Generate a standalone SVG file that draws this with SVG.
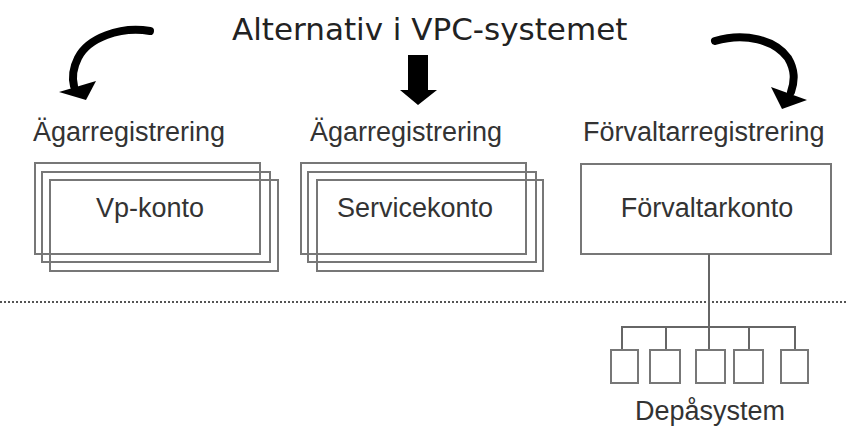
<svg xmlns="http://www.w3.org/2000/svg" width="848" height="427" viewBox="0 0 848 427">
<style>
.title{font-family:"DejaVu Sans",Verdana,sans-serif;font-size:31px;fill:#222}
.lbl{font-family:"Liberation Sans",Arial,sans-serif;font-size:27px;fill:#333}
.box{fill:none;stroke:#777;stroke-width:2}
.ln{stroke:#666;stroke-width:2;fill:none}
.arr{fill:none;stroke:#000;stroke-width:8;stroke-linecap:round}
</style>
<rect width="848" height="427" fill="#fff"/>
<text class="title" x="232" y="40">Alternativ i VPC-systemet</text>
<g id="arrows">
<path class="arr" d="M150 31 C120 26 88 38 78 58 C72 70 72 78 74 86"/>
<polygon points="59,92 96,81 86,100" fill="#000"/>
<polygon points="408,55 428,55 428,90 437,90 418,105 400,90 408,90" fill="#000"/>
<path class="arr" d="M715 41 C745 32 775 40 788 58 C795 70 795 80 791 92"/>
<polygon points="771,87 807,100 782,109" fill="#000"/>
</g>
<g id="vp">
<text class="lbl" x="33" y="141">Ägarregistrering</text>
<rect class="box" x="35" y="163" width="225" height="91"/>
<rect class="box" x="42" y="172" width="228" height="90"/>
<rect class="box" x="50" y="180" width="228" height="91"/>
<text class="lbl" x="150" y="217" text-anchor="middle">Vp-konto</text>
</g>
<g id="service">
<text class="lbl" x="310" y="141">Ägarregistrering</text>
<rect class="box" x="301" y="163" width="225" height="91"/>
<rect class="box" x="308" y="172" width="228" height="90"/>
<rect class="box" x="317" y="180" width="226" height="91"/>
<text class="lbl" x="415" y="217" text-anchor="middle">Servicekonto</text>
</g>
<g id="forvaltar">
<text class="lbl" x="583" y="141">Förvaltarregistrering</text>
<rect class="box" x="581" y="164" width="250" height="90"/>
<text class="lbl" x="707" y="217" text-anchor="middle">Förvaltarkonto</text>
</g>
<line x1="0" y1="302" x2="848" y2="302" stroke="#555" stroke-width="2" stroke-dasharray="2 2"/>
<g id="connectors">
<path class="ln" d="M709 254 V350 M622 350 V327 H795 V350 M666 327 V350 M749 327 V350"/>
</g>
<g id="depa">
<rect class="box" x="611" y="350" width="27" height="33"/>
<rect class="box" x="650" y="350" width="30" height="33"/>
<rect class="box" x="696" y="350" width="29" height="33"/>
<rect class="box" x="734" y="350" width="29" height="33"/>
<rect class="box" x="781" y="350" width="27" height="33"/>
<text class="lbl" x="710" y="420" text-anchor="middle">Depåsystem</text>
</g>
</svg>
